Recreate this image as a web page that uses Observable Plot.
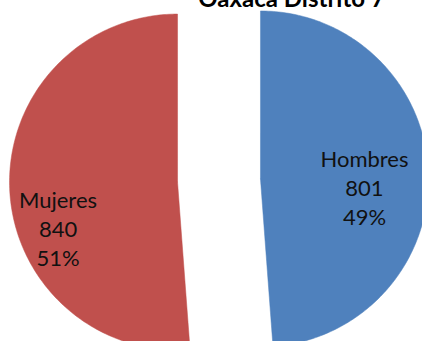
<!DOCTYPE html>
<html>
<head>
<meta charset="utf-8">
<script src="https://cdn.jsdelivr.net/npm/d3@7"></script>
<script src="https://cdn.jsdelivr.net/npm/@observablehq/plot@0.6"></script>
<style>
  html, body { margin: 0; padding: 0; background: #fff; overflow: hidden; }
  #chart svg { display: block; }
</style>
</head>
<body>
<div id="chart"></div>
<script>
// ---- data ----
const title = "Oaxaca Distrito 7";
const categories = ["Hombres", "Mujeres"];
const values = [801, 840];
const percentLabels = ["49%", "51%"];
const colors = ["#4F81BD", "#C0504D"];

// ---- layout (not data) ----
const W = 422, H = 341;
const cx = 218.5, cy = 180, R = 168, explode = 41.5;
// label placement relative to each slice's own centre
const labelDx = [104, -119.5], labelDy = [8, 46];

const arcs = d3.pie().sort(null)(values);
const polyPts = [];
const labels = [];
arcs.forEach((a, i) => {
  const mid = (a.startAngle + a.endAngle) / 2;
  const ox = cx + explode * Math.sin(mid);
  const oy = cy - explode * Math.cos(mid);
  polyPts.push({cat: categories[i], x: ox, y: oy});
  const n = 200;
  for (let k = 0; k <= n; k++) {
    const t = a.startAngle + (a.endAngle - a.startAngle) * k / n;
    polyPts.push({cat: categories[i], x: ox + R * Math.sin(t), y: oy - R * Math.cos(t)});
  }
  polyPts.push({cat: categories[i], x: ox, y: oy});
  labels.push({
    x: ox + labelDx[i], y: oy + labelDy[i],
    text: `${categories[i]}\n${values[i]}\n${percentLabels[i]}`
  });
});

const chart = Plot.plot({
  width: W, height: H, margin: 0,
  style: {background: "#fff"},
  x: {domain: [0, W], range: [0, W], axis: null},
  y: {domain: [0, H], range: [0, H], axis: null},
  color: {domain: categories, range: colors},
  marks: [
    Plot.line(polyPts, {x: "x", y: "y", z: "cat", fill: "cat", stroke: "cat", strokeWidth: 0.5, curve: "linear"}),
    Plot.text(labels, {x: "x", y: "y", text: "text", fontSize: 22, fontFamily: "Lato", lineHeight: 1.32, fill: "#111", textAnchor: "middle"}),
    Plot.text([title], {x: () => 291, y: () => 6, text: d => d, fontSize: 24, fontWeight: "bold", fontFamily: "Lato", fill: "#000", textAnchor: "middle", lineAnchor: "bottom"})
  ]
});
document.getElementById("chart").appendChild(chart);
</script>
</body>
</html>
